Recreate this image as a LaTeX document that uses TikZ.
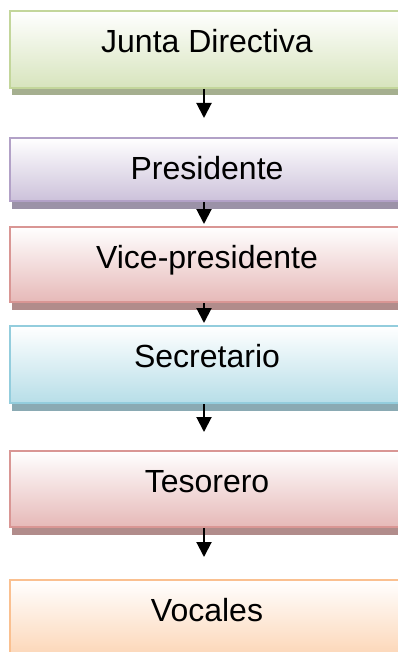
\documentclass[tikz,border=0pt]{standalone}
\usepackage{fontspec}
\setmainfont{Liberation Sans}
\usepackage{tikz}
\usetikzlibrary{arrows.meta}
\usetikzlibrary{shadows}
\definecolor{greenline}{RGB}{195,214,155}
\definecolor{greenfill}{RGB}{215,228,189}
\definecolor{purpleline}{RGB}{178,161,199}
\definecolor{purplefill}{RGB}{204,193,218}
\definecolor{redline}{RGB}{217,150,148}
\definecolor{redfill}{RGB}{230,185,184}
\definecolor{blueline}{RGB}{147,205,221}
\definecolor{bluefill}{RGB}{183,222,232}
\definecolor{orangeline}{RGB}{250,192,144}
\definecolor{orangefill}{RGB}{252,213,181}
\tikzset{
	cargo/.style 2 args={rectangle, anchor=north west, draw=#1, line width=2pt,
		top color=white, bottom color=#2, inner sep=0pt,
		text height=41.5pt, font=\fontsize{32}{38}\selectfont,
		execute at begin node={\hbox to 394pt\bgroup\hss},
		execute at end node={\hss\egroup\hspace*{40pt}},
		general shadow={fill=#1!55!gray, shadow xshift=2pt, shadow yshift=-7.5pt}},
	flecha/.style={-{Triangle[width=15pt,length=15pt]}, line width=2pt}
}

\begin{document}
\begin{tikzpicture}[x=1pt,y=-1pt]
	\useasboundingbox (0,0) rectangle (398,652);
	\node[cargo={greenline}{greenfill}, minimum height=77pt, text depth=35.5pt] (junta) at (9,10) {Junta Directiva};
	\node[cargo={purpleline}{purplefill}, minimum height=63pt, text depth=21.5pt] (pres) at (9,137) {Presidente};
	\node[cargo={redline}{redfill}, minimum height=75pt, text depth=33.5pt] (vice) at (9,226) {Vice-presidente};
	\node[cargo={blueline}{bluefill}, minimum height=77pt, text depth=35.5pt] (secr) at (9,325) {Secretario};
	\node[cargo={redline}{redfill}, minimum height=76pt, text depth=34.5pt] (teso) at (9,450) {Tesorero};
	\node[cargo={orangeline}{orangefill}, minimum height=78pt, text depth=36.5pt] (voc) at (9,579) {Vocales};
	\draw[flecha, shorten >=19pt] (junta.south -| 204,0) -- (pres.north -| 204,0);
	\draw[flecha, shorten >=2pt] (pres.south -| 204,0) -- (vice.north -| 204,0);
	\draw[flecha, shorten >=2pt] (vice.south -| 204,0) -- (secr.north -| 204,0);
	\draw[flecha, shorten >=18pt] (secr.south -| 204,0) -- (teso.north -| 204,0);
	\draw[flecha, shorten >=22pt] (teso.south -| 204,0) -- (voc.north -| 204,0);
\end{tikzpicture}
\end{document}
